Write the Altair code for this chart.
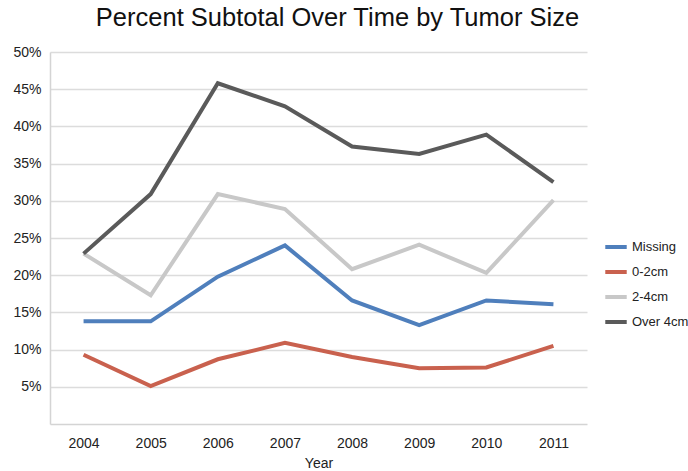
import altair as alt
import pandas as pd

years = ["2004", "2005", "2006", "2007", "2008", "2009", "2010", "2011"]
series_names = ["Missing", "0-2cm", "2-4cm", "Over 4cm"]
missing = [13.8, 13.8, 19.8, 24.0, 16.6, 13.3, 16.6, 16.1]
size_0_2 = [9.3, 5.1, 8.7, 10.9, 9.0, 7.5, 7.6, 10.5]
size_2_4 = [22.9, 17.3, 30.9, 28.9, 20.8, 24.1, 20.3, 30.1]
over_4 = [22.9, 30.9, 45.8, 42.7, 37.3, 36.3, 38.9, 32.5]
colors = ["#4f7fbc", "#c9614e", "#c8c8c8", "#5a5a5a"]
y_ticks = [0.05, 0.10, 0.15, 0.20, 0.25, 0.30, 0.35, 0.40, 0.45, 0.50]

rows = []
for name, vals in zip(series_names, [missing, size_0_2, size_2_4, over_4]):
    for yr, v in zip(years, vals):
        rows.append({"Year": yr, "Series": name, "Percent": v / 100})
df = pd.DataFrame(rows)

font = "Liberation Sans"

chart = (
    alt.Chart(df)
    .mark_line(strokeWidth=4, strokeJoin="miter")
    .encode(
        x=alt.X(
            "Year:O",
            sort=years,
            scale=alt.Scale(type="point", padding=0.5),
            axis=alt.Axis(
                title="Year",
                labelAngle=0,
                labelFontSize=14,
                labelColor="#222222",
                labelPadding=12,
                titleFontSize=14,
                titleFontWeight="normal",
                titleColor="#222222",
                titlePadding=6,
                ticks=False,
                grid=False,
                domainColor="#d4d4d4",
                domainWidth=1.5,
            ),
        ),
        y=alt.Y(
            "Percent:Q",
            scale=alt.Scale(domain=[0, 0.5], nice=False),
            axis=alt.Axis(
                title=None,
                values=y_ticks,
                format=".0%",
                labelFontSize=14,
                labelColor="#222222",
                labelPadding=9,
                ticks=False,
                gridColor="#dcdcdc",
                gridWidth=1.5,
                domainColor="#d4d4d4",
                domainWidth=1.5,
            ),
        ),
        color=alt.Color(
            "Series:N",
            sort=series_names,
            scale=alt.Scale(domain=series_names, range=colors),
            legend=alt.Legend(
                title=None,
                orient="none",
                legendX=553,
                legendY=182,
                symbolType="stroke",
                symbolStrokeWidth=4,
                symbolSize=460,
                labelFontSize=13,
                labelColor="#222222",
                rowPadding=4,
                labelOffset=3,
            ),
        ),
    )
    .properties(
        width=537,
        height=372,
        padding={"left": 50, "top": 52, "right": 101, "bottom": 47},
        autosize=alt.AutoSizeParams(type="none"),
        title=alt.TitleParams(
            "Percent Subtotal Over Time by Tumor Size",
            fontSize=25.5,
            fontWeight="normal",
            color="#111111",
            font=font,
            anchor="middle",
            frame="group",
            dx=19,
            offset=14,
        ),
    )
    .configure(font=font)
    .configure_view(stroke=None)
)

chart.save("out.html", embed_options={"renderer": "svg", "actions": False})
